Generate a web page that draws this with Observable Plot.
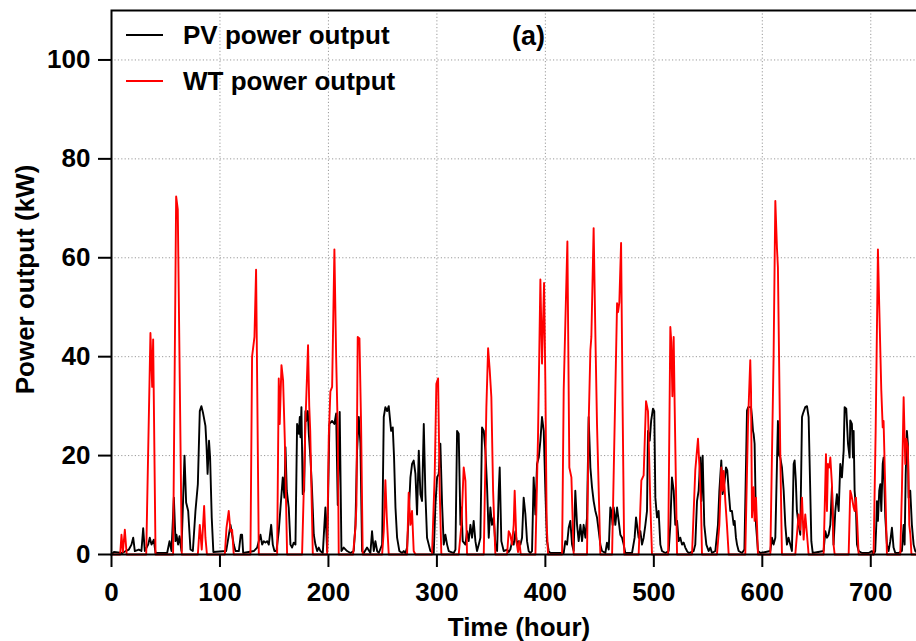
<!DOCTYPE html>
<html>
<head>
<meta charset="utf-8">
<script src="https://cdn.jsdelivr.net/npm/d3@7"></script>
<script src="https://cdn.jsdelivr.net/npm/@observablehq/plot@0.6"></script>
<style>
html, body { margin: 0; padding: 0; background: #fff; }
#chart svg { display: block; }
</style>
</head>
<body>
<div id="chart"></div>
<script>
// ---- tick labels ----
const xTicks = [0, 100, 200, 300, 400, 500, 600, 700];
const yTicks = [0, 20, 40, 60, 80, 100];
const seriesNames = ["PV power output", "WT power output"];
const seriesColors = ["#000000", "#ff0000"];

// ---- PV power output (hour, kW) ----
const pvHours = [0,2.1,10,14,16,18.4,20,21.5,25.2,27.6,29.2,30.7,33.8,35.3,36.9,39,40.6,51.3,53.5,55.3,57.5,59,59.9,61.4,62.7,64.5,67.3,68.8,70.7,72.8,75,77.4,79.6,81.4,82.9,84.5,86.6,87.6,88.6,89.9,90.9,92.4,93.9,
105.7,109.7,111.2,112.7,114.3,117.4,119.2,120.4,121.4,131.2,134.3,137.3,138.9,140.4,141.9,143.5,145,147.2,148.7,150.2,152.1,154.2,155.8,157.9,159.4,160.4,161.6,163.4,165,166.5,168,169.6,171.1,172.7,173.6,174.2,175.1,176.3,177.6,178.8,
179.5,181,181.9,183.4,184.9,186.5,188,189.6,191.1,192.6,194.8,197.2,198.8,200.9,203.4,205.5,207.1,208.6,210.4,212,214.1,217.2,220.3,223.3,224.9,226.4,228,229.5,231,232.6,235.6,238.7,240.2,241.8,243.3,244.9,246.4,249.5,251,252.5,254.1,255.6,257.8,259.3,260.5,261.8,263.3,265.4,267.9,269.4,271,272.5,
274,275.6,277.1,278.6,280.2,281.7,283.3,284.8,286.3,287.9,289.4,290.9,292.5,294,297.1,298.6,300.2,301.7,303.2,304.8,306.3,307.8,309.4,310.9,315.5,317.1,318.6,320.1,321.7,322.6,323.8,326.3,327.8,329.3,330.9,332.4,333.9,335.5,337,338.6,340.1,341.6,343.2,344.7,346.2,347.8,349.3,350.8,352.4,353.9,355.5,357,357.9,359.4,361.6,364.7,
366.2,367.7,369.3,370.8,372.4,373.9,375.4,377,378.5,380,381.6,383.1,384.6,386.2,387.7,389.2,390.8,392.3,393.9,395.4,396.9,398.5,400,401.5,403.1,404.6,416.9,418.4,420,421.5,423,424.6,426.1,427.6,429.2,430.7,432.3,433.8,435.3,436.9,438.4,439.9,441.5,443,444.5,446.1,447.6,449.2,450.7,452.2,
455.3,456.8,458.4,459.9,460.8,462,463,464.5,466.1,467.6,469.1,470.7,472.2,473.7,479.9,482.3,483.6,484.5,486,487.6,489.1,490.6,492.2,493.7,494.6,496.2,497.5,499.2,500.4,501.4,502.9,504.4,506,507.5,510.6,513.7,515.2,516.7,518.3,519.8,521.4,522.9,524.4,526,527.5,529,530.6,532.1,536.7,538.2,539.8,541.3,542.9,543.8,545,546.5,548.4,550.5,552.1,
553.6,556.7,559.1,560.4,562.2,563.4,565.3,566.5,567.7,569,570.5,572,573.6,574.5,575.7,576.7,578.2,581.3,583.5,585.9,587,589.6,590.5,591.4,592,592.9,594.2,596,598.2,607.4,608.9,610.4,612,614.4,615.5,616.6,618.1,619.7,621.2,622.7,624.2,625.8,627.3,628.9,629.8,630.9,631.9,633.5,635,636.6,637.5,639.6,641.2,642.7,644.2,645.2,646.5,
656.5,658.1,659.6,661.1,662.7,664.2,665.7,667.3,668.8,670.4,671.9,673.4,675,675.9,677.4,679,680.5,681.1,682.6,683.6,684.2,685.1,686.3,687.3,688.8,691.9,698,701.1,702.6,704.1,705.1,705.7,706.6,707.8,708.8,709.7,711,711.8,713.4,714.9,716.4,718,719.5,721,722.6,725.6,728.7,730.3,731.2,732.2,733.3,734.2,734.9,736.4,737.9,739.5,741,743];
const pvPower = [0,0.5,0.3,0.8,1,2,3.4,0.7,1,0.7,5.3,0.7,2,3.4,2,3,0.3,0.3,2.7,0.7,11.5,2.7,4,2,3.7,0.7,20,10.5,8.8,1,0.7,8.8,14.2,29,30,28.5,26,22,16.3,23,19.6,7.5,0.5,
0.7,6,4,2,0.7,0.7,4,4,0.3,0.7,1.4,4,2,2.7,2.4,2.7,2,6,2,0.7,0.7,4.7,9.5,15.6,11.5,21.7,12.9,9.5,2,1.4,2.4,2,26.4,24.4,27.8,23.7,29.8,12.2,12.9,29,
27,29,24.4,19.6,12.9,4,2,0.7,1.4,0.7,0.3,9.5,0.7,26.4,27,26.4,28.5,10,28.8,0.7,1.4,0.7,0.3,0.7,6,21,27.8,22.4,0.7,0.3,1.4,0.3,4.7,0.7,2.7,0.7,0.3,2,27.8,29.8,29,30,25,25.7,19.6,9.5,3.4,0.7,0.3,0.7,0.3,1.4,
8,15.6,18.3,19,16.3,8.1,21,12.2,10.8,26.4,12.2,3.4,2,0.7,0.3,10,15.6,16.3,22.4,10,2,4,2,0.7,0.3,1,25,24.4,6,9.5,2.7,2,4.7,2.7,6,3.4,6.8,2.7,0.7,2,3.4,25.7,25,21,14,3.4,9.5,6,7.5,2,0.7,12.9,17.6,2.7,0.7,1,
0.5,1,2.7,2,4.7,2,2.7,2,3.4,11.5,8.1,2.7,0.7,0.3,0.7,15.6,8.1,18.3,19.6,23,27.8,25,12.9,2.7,0.7,0.3,0.3,2.7,2,5.4,6.8,2,0.7,12.9,6,2.7,6,2.7,6,3.4,7.5,27.8,17.6,13.6,10.8,8.8,7.5,4.7,2,0.7,
0.3,2.4,1,9.5,8.8,6,9.5,6,9.5,6.8,4,3.4,2,0.3,0.3,3.4,7.5,6,3.4,4.7,2,3.4,6,8.8,25,23,27,29.5,29,11.5,7.5,8.8,2,0.7,0.3,0.7,6,15.6,12.9,6,6.8,2.7,3.4,2,2.4,1.4,0.7,0.3,0.7,2,10.8,12.9,19.6,10.8,20,6,2,0.7,1.4,
0.3,0.7,6,12.9,19,12.2,14.9,17.6,17,12.9,8.8,8.8,6,6.8,3.4,2,0.7,0.3,1,29.1,29.8,29.8,27.8,25,24.4,22.4,6,0.7,0.3,0.7,3.4,2,3.4,27,20,19.6,17.6,12.9,6,2,3.4,2,0.7,18.3,19,15,8.8,6,4,27.8,28.5,29.8,30,27.8,12.9,2.7,0.3,
0.7,4.7,3.4,4,6,13.6,2,8.8,12.2,8.8,18.3,15.6,21,29.8,29.5,22.4,19.6,27.1,26.4,19.6,25,12.9,9.5,2,0.7,0.3,0.3,0.7,0,0.7,6,10.8,6.8,12.9,14.2,8.8,18.3,19.6,7.5,2,0.7,2.7,5.4,1.4,0.3,0.3,0.7,6,2,16,25,22.4,11.5,12.9,6,2,0.7,0.3];

// ---- WT power output (hour, kW) ----
const wtHours = [0,8,9.2,10.5,12.3,14,32,35.9,37.5,38.4,40.6,56.8,59.6,61.1,64.8,79.6,81.4,83.2,85.4,86.6,88,104.5,106,108.1,109.7,111.2,112.7,128.1,129.6,131.8,133.3,134.3,135.8,152.7,154.2,155.1,156.7,158.2,159.8,161.9,175.7,177.5,179,181.2,182.3,183.2,185.6,
198.8,200.3,201.8,203.4,205.5,207.1,208.6,209.5,222.7,224.9,225.8,227,228.6,230.1,231.6,249.5,251,252.5,253.8,255.6,272.5,274,275.6,277.1,278.6,280.2,295.5,298,299.5,301.1,302.6,304.1,320.1,322.6,324.7,326.3,327.8,343.2,345.6,347.2,348.7,350.2,351.8,353.9,
364.7,366.2,367.7,369.3,370.8,371.7,373.3,374.8,376,377.3,390.8,393.2,395.4,396.9,398.8,400,401.2,402.5,415.4,416.9,418.4,420.3,422.1,424,426.1,438.4,439.9,441.5,442.4,444.5,446.1,447.6,450.7,461.5,466.1,467,468.2,469.8,471.2,472.7,
486,488.5,490.6,492.8,494.6,496.8,498.3,513.2,515.2,516.1,517.1,518.3,519.2,521.4,535.2,538.2,540.7,542,543.5,544.4,558.2,560.4,562.2,563.4,564.4,565.9,567.4,569,584.3,586.8,588.9,589.6,590.5,592,592.9,594.2,595.1,596,
607.4,610.4,612,613.5,614.4,616.6,618.1,630.4,633.5,635,636.6,638.1,639.6,641.2,642.7,656.5,658.7,659.6,660.5,661.8,662.7,664.2,665.7,666.7,679.6,681.1,682,682.6,684.2,685.1,686.3,687.3,688.8,702.6,704.5,706.6,707.8,709.7,711,711.8,713.4,714.9,727.2,728.7,730.3,731.8,732.7,734.2,735.5,736.5,737.5,743];
const wtPower = [0,0,4,0.5,5,0,0,44.8,33.9,43.5,0,0,72.4,69.8,0,0,6,1,9.8,3.4,0,0,5.4,8.8,4.7,5,0,0,40,44,57.6,35,0,0,35.6,26.4,38.3,35.2,23,0,0,15,28,42.3,30,25,0,
0,23.7,33,33.9,61.7,40,25,0,0,5.4,10,44,43.7,26.4,0,0,4.7,15,7.5,0,0,12.5,6,8.8,0.7,0,0,16.3,34.5,35.6,12.9,0,0,6,17.6,14.9,0,0,29.8,41.7,37.3,31.8,12.9,0,
0,4.7,4,2,6,12.9,2.7,0.5,2.7,0,0,23.7,55.6,38.6,54.9,34.6,6,0,0,33.2,46.7,63.3,17.6,15.6,0,0,26.4,41.3,44,66,44.5,26.4,0,0,50.8,49,51,63,30,0,
0,15,16,31,29,10,0,0,46,43,32,44,30,0,0,17,23.4,18,10,0,0,6,17.6,12.9,16.9,10.8,6,0,0,26.4,39.3,33,7.5,13.6,6.8,11.5,6,0,
0,40,71.5,62,58,20,0,0,8.1,5,11.5,3,8.1,4,0,0,20.3,8.8,18.3,17.6,19.6,14.2,2,0,0,12.9,12.2,11.5,9.5,8.8,11.5,7.5,0,0,25,61.7,50.3,33.2,25.7,27,12.9,0,0,12.9,31.8,18.3,23.4,21.7,6,4,0,0];

const pv = pvHours.map((h, i) => ({hour: h, power: pvPower[i]}));
const wt = wtHours.map((h, i) => ({hour: h, power: wtPower[i]}));

const font = "'Liberation Sans', Arial, Helvetica, sans-serif";

const chart = Plot.plot({
  width: 916,
  height: 641,
  marginTop: 10,
  marginBottom: 87,
  marginLeft: 111,
  marginRight: -2,
  style: {fontFamily: font, fontWeight: "bold", fontSize: "26px", color: "#000", background: "#fff"},
  x: {domain: [0, 744], ticks: xTicks},
  y: {domain: [0, 110], ticks: yTicks},
  marks: [
    Plot.gridX(xTicks, {stroke: "#9a9a9a", strokeOpacity: 1, strokeWidth: 1, strokeDasharray: "1.2,2.2"}),
    Plot.gridY(yTicks, {stroke: "#9a9a9a", strokeOpacity: 1, strokeWidth: 1, strokeDasharray: "1.2,2.2"}),
    Plot.line(pv, {x: "hour", y: "power", stroke: seriesColors[0], strokeWidth: 1.9}),
    Plot.line(wt, {x: "hour", y: "power", stroke: seriesColors[1], strokeWidth: 1.9}),
    Plot.frame({stroke: "#000", strokeWidth: 2}),
    Plot.axisX(xTicks, {tickSize: 13, tickPadding: 15, strokeWidth: 2, label: null, fontSize: 26, fontWeight: "bold"}),
    Plot.axisY(yTicks, {tickSize: 13, tickPadding: 8, strokeWidth: 2, label: null, fontSize: 26, fontWeight: "bold"}),
    Plot.text(["Time (hour)"], {frameAnchor: "bottom", dx: 4, dy: 73, textAnchor: "middle", lineAnchor: "middle", fontSize: 26, fontWeight: "bold"}),
    Plot.text(["Power output (kW)"], {frameAnchor: "left", dx: -86, dy: -3, rotate: -90, textAnchor: "middle", lineAnchor: "middle", fontSize: 26, fontWeight: "bold"}),
    Plot.text(["(a)"], {frameAnchor: "top-left", dx: 417, dy: 26, textAnchor: "middle", lineAnchor: "middle", fontSize: 27, fontWeight: "bold"})
  ]
});
document.getElementById("chart").appendChild(chart);

// legend (inside plot, upper left)
const svg = d3.select(chart);
const lg = svg.append("g").attr("font-family", font).attr("font-weight", "bold").attr("font-size", 26).attr("text-anchor", "start");
seriesNames.forEach((name, i) => {
  const y = 35 + i * 46;
  lg.append("line").attr("x1", 126).attr("x2", 163).attr("y1", y).attr("y2", y)
    .attr("stroke", seriesColors[i]).attr("stroke-width", 1.8);
  lg.append("text").attr("x", 183).attr("y", y).attr("dy", "0.35em").attr("text-anchor", "start").attr("fill", "#000").text(name);
});
</script>
</body>
</html>
